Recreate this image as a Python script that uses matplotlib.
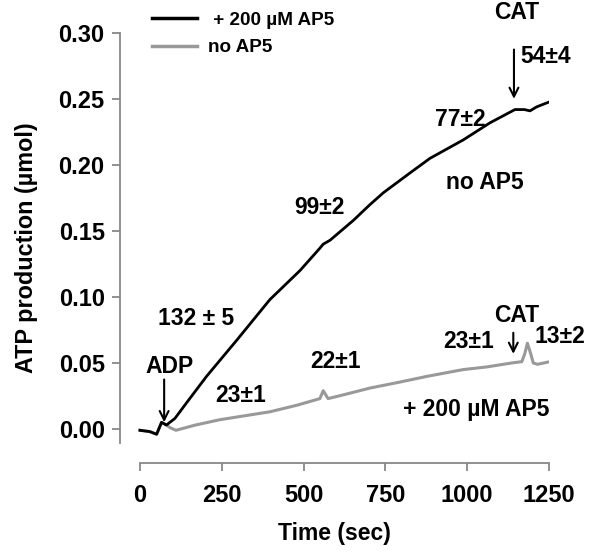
import matplotlib
matplotlib.use('Agg')
import matplotlib.pyplot as plt

# black trace (legend: + 200 uM AP5)
t_black = [0, 30, 51, 66, 81, 107, 143, 204, 295, 397, 489, 550, 560, 581, 652, 703,
           744, 820, 886, 988, 1070, 1146, 1175, 1192, 1212, 1253]
v_black = [-0.001, -0.002, -0.004, 0.005, 0.003, 0.008, 0.020, 0.040, 0.067, 0.098, 0.120,
           0.137, 0.140, 0.143, 0.158, 0.170, 0.179, 0.193, 0.205, 0.219, 0.232, 0.242,
           0.242, 0.241, 0.244, 0.248]
# grey trace (legend: no AP5)
t_grey = [0, 30, 51, 66, 81, 92, 110, 170, 244, 320, 397, 480, 550, 560, 575, 640, 703,
          784, 880, 988, 1060, 1136, 1167, 1176, 1184, 1193, 1202, 1215, 1253]
v_grey = [-0.001, -0.002, -0.004, 0.005, 0.003, 0.001, -0.001, 0.003, 0.007, 0.010, 0.013,
          0.018, 0.023, 0.029, 0.023, 0.027, 0.031, 0.035, 0.040, 0.045, 0.047, 0.050,
          0.051, 0.057, 0.065, 0.058, 0.050, 0.049, 0.051]

legend_labels = [' + 200 µM AP5', 'no AP5']

# rate labels: (text, t, value)
labels = [
    ('132 ± 5', 171, 0.084),
    ('99±2', 550, 0.168),
    ('77±2', 978, 0.2348),
    ('no AP5', 1055, 0.187),
    ('23±1', 309, 0.025),
    ('22±1', 599, 0.051),
    ('23±1', 1003, 0.066),
    ('+ 200 µM AP5', 1027, 0.0144),
    ('ADP', 91, 0.047),
    ('CAT', 1152, 0.086),
    ('CAT', 1152, 0.3155),
]
left_labels = [('54±4', 1163, 0.282), ('13±2', 1207, 0.070)]
arrows = [(74, 0.0396, 0.003), (1143, 0.2896, 0.248), (1141, 0.075, 0.0548)]

plt.rcParams['font.family'] = ['Liberation Sans', 'DejaVu Sans']
plt.rcParams['font.weight'] = 'bold'

fig = plt.figure(figsize=(5.96, 5.52), dpi=100)
ax = fig.add_axes([0.2013, 0.1612, 0.7198, 0.779])

ax.plot(t_black, v_black, color='black', lw=2.0, label=legend_labels[0], zorder=3)
ax.plot(t_grey, v_grey, color='#999999', lw=2.2, label=legend_labels[1], zorder=2)

for txt, x, y in labels:
    ax.text(x, y, txt, ha='center', va='center', fontsize=16.5, fontweight='bold')
for txt, x, y in left_labels:
    ax.text(x, y, txt, ha='left', va='center', fontsize=16.5, fontweight='bold')
for x, y0, y1 in arrows:
    ax.annotate('', xy=(x, y1), xytext=(x, y0),
                arrowprops=dict(arrowstyle='->', color='black', lw=1.5,
                                mutation_scale=16))

ax.set_xlim(-61, 1250)
ax.set_ylim(-0.0258, 0.30)
ax.set_xticks([0, 250, 500, 750, 1000, 1250])
ax.set_yticks([0.00, 0.05, 0.10, 0.15, 0.20, 0.25, 0.30])
ax.set_yticklabels(['0.00', '0.05', '0.10', '0.15', '0.20', '0.25', '0.30'])
ax.spines['top'].set_visible(False)
ax.spines['right'].set_visible(False)
ax.spines['left'].set_bounds(-0.0106, 0.30)
ax.spines['bottom'].set_bounds(0, 1250)
for s in ['left', 'bottom']:
    ax.spines[s].set_color('#888888')
    ax.spines[s].set_linewidth(1.3)
ax.tick_params(direction='out', length=6, width=1.3, color='#888888',
               labelsize=17, pad=5)
ax.tick_params(axis='x', pad=9)
for lab in ax.get_xticklabels() + ax.get_yticklabels():
    lab.set_fontweight('bold')

ax.set_xlabel('Time (sec)', fontsize=16.5, fontweight='bold', labelpad=11)
ax.set_ylabel('ATP production (µmol)', fontsize=16.8, fontweight='bold', labelpad=15)

leg = ax.legend(loc='upper left', bbox_to_anchor=(0.074, 1.05), frameon=False,
                fontsize=13.6, handlelength=2.4, handletextpad=0.6, labelspacing=0.55,
                borderaxespad=0, borderpad=0)
for t in leg.get_texts():
    t.set_fontweight('bold')
for l in leg.get_lines():
    l.set_linewidth(2.5)

fig.savefig('out.png', dpi=100)
